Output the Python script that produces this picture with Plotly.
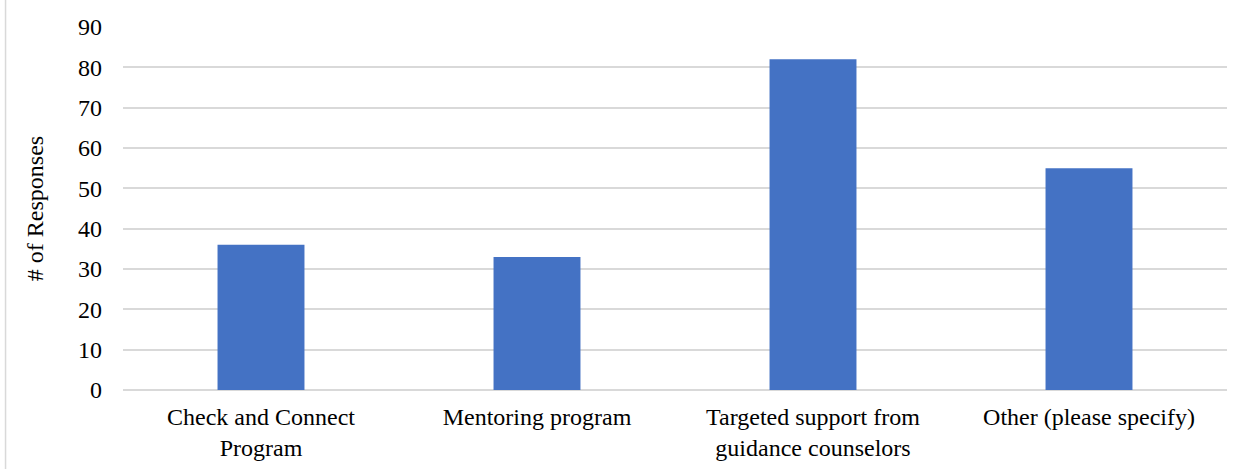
import plotly.graph_objects as go

categories = ["Check and Connect<br>Program", "Mentoring program",
              "Targeted support from<br>guidance counselors", "Other (please specify)"]
responses = [36, 33, 82, 55]
y_ticks = list(range(0, 100, 10))

fig = go.Figure(go.Bar(x=categories, y=responses, marker_color="#4472C4",
                       marker_line_width=0))

font = dict(family="Liberation Serif, Times New Roman, serif", size=24, color="#000000")

fig.update_layout(
    width=1248, height=469,
    margin=dict(l=123, r=21, t=27, b=79),
    paper_bgcolor="white", plot_bgcolor="white",
    bargap=0.685,
    font=font,
    showlegend=False,
    xaxis=dict(showgrid=False, showline=False, ticks="", tickfont=font,
               ticklabelstandoff=10, automargin=False),
    yaxis=dict(range=[0, 90], tickvals=y_ticks, showgrid=True, gridcolor="#d9d9d9",
               gridwidth=1.5, zeroline=True, zerolinecolor="#d9d9d9", zerolinewidth=1.5,
               showline=False, ticks="", ticklabelstandoff=20, tickfont=font,
               automargin=False,
               title=dict(text="# of Responses", font=font, standoff=27)),
    shapes=[dict(type="line", xref="paper", yref="paper", x0=-0.1064, x1=-0.1064,
                 y0=-0.3, y1=1.1, line=dict(color="#d9d9d9", width=1.5))],
)

fig.write_html("out.html")
